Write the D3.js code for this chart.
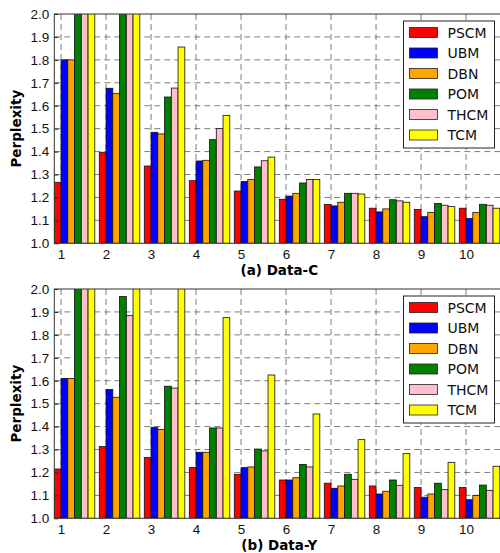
<!DOCTYPE html>
<html>
<head>
<meta charset="utf-8">
<script src="https://cdn.jsdelivr.net/npm/d3@7/dist/d3.min.js"></script>
<style>
  html, body { margin: 0; padding: 0; background: #fff; }
  svg { display: block; font-family: "DejaVu Sans", sans-serif; }
  .grid line { stroke: #707070; stroke-width: 0.9; stroke-dasharray: 6,4; }
  .axis text { font-size: 13.5px; fill: #111; }
  .axis line { stroke: #222; }
</style>
</head>
<body>
<svg id="chart" width="500" height="553"></svg>
<script>
const categories = ['1', '2', '3', '4', '5', '6', '7', '8', '9', '10'];
const seriesNames = ['PSCM', 'UBM', 'DBN', 'POM', 'THCM', 'TCM'];
const seriesColors = ['#ff0000', '#0000ff', '#ffa500', '#008000', '#ffc0cb', '#ffff00'];
const yTicks = [1.0, 1.1, 1.2, 1.3, 1.4, 1.5, 1.6, 1.7, 1.8, 1.9, 2.0];

// (a) Data-C  (values above 2.0 are cut off by the axis)
const pscmC = [1.266, 1.397, 1.337, 1.273, 1.228, 1.192, 1.170, 1.153, 1.147, 1.153];
const ubmC  = [1.800, 1.676, 1.484, 1.359, 1.269, 1.206, 1.163, 1.137, 1.116, 1.108];
const dbnC  = [1.800, 1.654, 1.477, 1.362, 1.278, 1.218, 1.179, 1.150, 1.135, 1.135];
const pomC  = [2.600, 2.300, 1.638, 1.452, 1.333, 1.263, 1.218, 1.190, 1.174, 1.170];
const thcmC = [2.900, 2.500, 1.677, 1.500, 1.360, 1.278, 1.218, 1.185, 1.166, 1.166];
const tcmC  = [3.100, 2.700, 1.856, 1.558, 1.376, 1.278, 1.215, 1.179, 1.160, 1.153];

// (b) Data-Y
const pscmY = [1.215, 1.313, 1.265, 1.221, 1.192, 1.167, 1.153, 1.141, 1.134, 1.134];
const ubmY  = [1.610, 1.562, 1.397, 1.288, 1.221, 1.167, 1.131, 1.106, 1.092, 1.081];
const dbnY  = [1.610, 1.528, 1.387, 1.288, 1.224, 1.177, 1.141, 1.118, 1.106, 1.100];
const pomY  = [2.300, 1.967, 1.576, 1.394, 1.302, 1.235, 1.192, 1.167, 1.153, 1.145];
const thcmY = [2.400, 1.885, 1.568, 1.394, 1.294, 1.224, 1.170, 1.144, 1.125, 1.122];
const tcmY  = [3.500, 2.800, 2.200, 1.875, 1.625, 1.455, 1.343, 1.282, 1.244, 1.227];

const barWidth = 0.15;
const svg = d3.select('#chart');

const xScale = d3.scaleLinear().domain([0, 10]).range([54.3, 504.3]);

function drawPanel(id, series, top, bottom, title, titleY) {
  const yScale = d3.scaleLinear().domain([1, 2]).range([bottom, top]);
  const [x0, x1] = xScale.range();
  const g = svg.append('g');

  g.append('clipPath').attr('id', 'clip-' + id)
    .append('rect')
    .attr('x', x0).attr('y', top)
    .attr('width', x1 - x0).attr('height', bottom - top);

  // dashed grid
  const grid = g.append('g').attr('class', 'grid');
  grid.selectAll('.hg').data(yTicks.slice(1, -1)).join('line')
    .attr('x1', x0).attr('x2', x1)
    .attr('y1', d => yScale(d)).attr('y2', d => yScale(d));
  grid.selectAll('.vg').data(categories).join('line')
    .attr('x1', (d, i) => xScale(i + barWidth)).attr('x2', (d, i) => xScale(i + barWidth))
    .attr('y1', top).attr('y2', bottom);

  // bars
  const bars = g.append('g').attr('clip-path', 'url(#clip-' + id + ')');
  series.forEach((values, j) => {
    bars.selectAll('.s' + j).data(values).join('rect')
      .attr('x', (d, i) => xScale(i + j * barWidth))
      .attr('width', xScale(barWidth) - xScale(0))
      .attr('y', d => yScale(d))
      .attr('height', d => bottom - yScale(d))
      .attr('fill', seriesColors[j])
      .attr('stroke', '#111')
      .attr('stroke-width', 0.8);
  });

  // axes
  const xAxis = d3.axisBottom(xScale)
    .tickValues(categories.map((c, i) => i + barWidth))
    .tickFormat((d, i) => categories[i])
    .tickSizeInner(-4).tickSizeOuter(0).tickPadding(6);
  g.append('g').attr('class', 'axis')
    .attr('transform', `translate(0,${bottom})`)
    .call(xAxis)
    .call(a => a.select('.domain').remove());

  const yAxis = d3.axisLeft(yScale)
    .tickValues(yTicks).tickFormat(d3.format('.1f'))
    .tickSizeInner(-4).tickSizeOuter(0).tickPadding(5);
  g.append('g').attr('class', 'axis')
    .attr('transform', `translate(${x0},0)`)
    .call(yAxis)
    .call(a => a.select('.domain').remove());

  // frame
  g.append('rect')
    .attr('x', x0).attr('y', top)
    .attr('width', x1 - x0).attr('height', bottom - top)
    .attr('fill', 'none').attr('stroke', '#333').attr('stroke-width', 1);

  g.append('text')
    .attr('transform', `translate(20.5,${(top + bottom) / 2}) rotate(-90)`)
    .attr('text-anchor', 'middle')
    .style('font-size', '13.5px').style('font-weight', 'bold')
    .text('Perplexity');

  g.append('text')
    .attr('x', (x0 + x1) / 2).attr('y', titleY)
    .attr('text-anchor', 'middle')
    .style('font-size', '13.5px').style('font-weight', 'bold')
    .text(title);

  // legend
  const lx = 403.5, ly = top + 7;
  const legend = g.append('g').attr('transform', `translate(${lx},${ly})`);
  legend.append('rect')
    .attr('width', 91).attr('height', 127)
    .attr('fill', '#fff').attr('stroke', '#222').attr('stroke-width', 1);
  const rows = legend.selectAll('.row').data(seriesNames).join('g')
    .attr('transform', (d, i) => `translate(0,${11.5 + i * 20.5})`);
  rows.append('rect')
    .attr('x', 6).attr('y', -5).attr('width', 28).attr('height', 10)
    .attr('fill', (d, i) => seriesColors[i])
    .attr('stroke', '#222').attr('stroke-width', 0.8);
  rows.append('text')
    .attr('x', 44).attr('dy', '0.36em')
    .style('font-size', '14px').style('fill', '#111')
    .text(d => d);
}

drawPanel('c', [pscmC, ubmC, dbnC, pomC, thcmC, tcmC], 14, 243.3, '(a) Data-C', 275);
drawPanel('y', [pscmY, ubmY, dbnY, pomY, thcmY, tcmY], 289, 518.3, '(b) Data-Y', 550);
</script>
</body>
</html>
